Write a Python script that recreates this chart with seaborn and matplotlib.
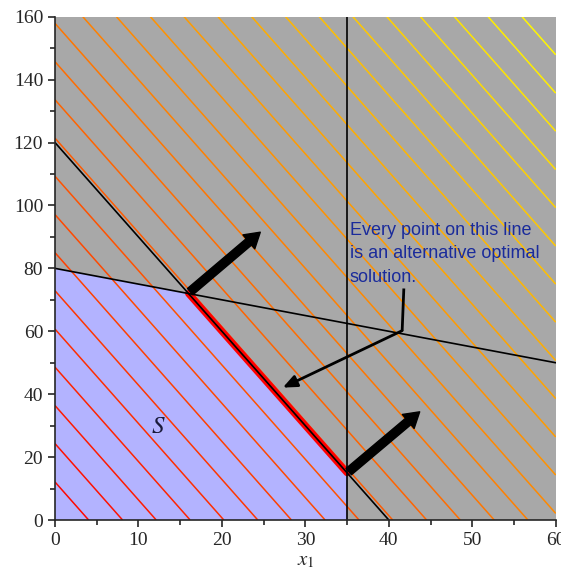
import numpy as np
import matplotlib
matplotlib.use("Agg")
import matplotlib.pyplot as plt
import seaborn as sns
import pandas as pd

# ---- data ----
obj_coef = [3, 1]                     # objective 3*x1 + x2
levels = [12.1, 24.3, 36.4, 48.6, 60.7, 72.9, 85.0, 97.1, 109.3, 121.4,
          133.6, 145.7, 157.9, 170.0, 182.1, 194.3, 206.4, 218.6, 230.7,
          242.9, 255.0, 267.1, 279.3, 291.4, 303.6, 315.7, 327.9]
region_x = [0, 0, 16, 35, 35]         # vertices of feasible set S
region_y = [0, 80, 72, 15, 0]
c1_x, c1_y = [0, 40], [120, 0]        # 3x1 + x2 <= 120
c2_x, c2_y = [0, 60], [80, 50]        # x1 + 2x2 <= 160
c3_x, c3_y = [35, 35], [0, 160]       # x1 <= 35
opt_x, opt_y = [16, 35], [72, 15]     # optimal edge
grad_starts = [(16.2, 72.6), (35.2, 15.4)]
grad_ends = [(24.6, 91.5), (43.7, 34.4)]
pointer_x = [41.8, 41.6, 27.3]
pointer_y = [73.6, 60.2, 42.1]
note = "Every point on this line\nis an alternative optimal\nsolution."
xticks_major = [0, 10, 20, 30, 40, 50, 60]
yticks_major = [0, 20, 40, 60, 80, 100, 120, 140, 160]

# ---- style ----
sns.set_style("ticks")
plt.rcParams['font.family'] = ['Liberation Serif', 'DejaVu Serif']
plt.rcParams['mathtext.fontset'] = 'stix'

fig = plt.figure(figsize=(5.61, 5.78), dpi=100)
ax = fig.add_axes([0.098, 0.1003, 0.8926, 0.8708])
ax.set_facecolor('#a8a8a8')

# feasible region
ax.fill(region_x, region_y, color='#b3b3ff', lw=0, zorder=1)

# contour lines of objective
gx = np.linspace(0, 60, 301)
gy = np.linspace(0, 160, 321)
X, Y = np.meshgrid(gx, gy)
Z = obj_coef[0] * X + obj_coef[1] * Y
n = len(levels)
cols = [(1.0, min(1.0, (i + 1) / (n + 1)), 0.0) for i in range(n)]
ax.contour(X, Y, Z, levels=levels, colors=cols, linewidths=1.1, zorder=2)

# optimal edge
df_opt = pd.DataFrame({'x': opt_x, 'y': opt_y})
sns.lineplot(data=df_opt, x='x', y='y', ax=ax, color='#ff0000', lw=5,
             sort=False, estimator=None, zorder=3)

# constraints
for cx, cy in [(c1_x, c1_y), (c2_x, c2_y), (c3_x, c3_y)]:
    d = pd.DataFrame({'x': cx, 'y': cy})
    sns.lineplot(data=d, x='x', y='y', ax=ax, color='black', lw=1.2,
                 sort=False, estimator=None, zorder=4)

# gradient arrows
for s, e in zip(grad_starts, grad_ends):
    ax.annotate('', xy=e, xytext=s,
                arrowprops=dict(arrowstyle='simple,head_length=0.9,head_width=1.1,tail_width=0.5',
                                fc='black', ec='black', mutation_scale=12,
                                shrinkA=0, shrinkB=0), zorder=6)

# pointer
ax.plot(pointer_x[:2], pointer_y[:2], color='black', lw=2.0, zorder=6,
        solid_capstyle='butt')
ax.annotate('', xy=(pointer_x[2], pointer_y[2]), xytext=(pointer_x[1], pointer_y[1]),
            arrowprops=dict(arrowstyle='-|>,head_length=0.7,head_width=0.3',
                            fc='black', ec='black', lw=2.0, mutation_scale=12,
                            shrinkA=0, shrinkB=0), zorder=6)

ax.text(35.3, 94.8, note, color='#1a2b9b', fontsize=13, va='top', ha='left',
        family=['Liberation Sans', 'DejaVu Sans'], linespacing=1.5, zorder=7)
ax.text(12.4, 29.5, r'$S$', fontsize=18, ha='center', va='center', zorder=7,
        color='#1a1a3a')

ax.set_xlim(0, 60)
ax.set_ylim(0, 160)
ax.set_xticks(xticks_major)
ax.set_yticks(yticks_major)
ax.set_xticks([5, 15, 25, 35, 45, 55], minor=True)
ax.set_yticks([10, 30, 50, 70, 90, 110, 130, 150], minor=True)
ax.tick_params(which='major', length=5, width=1.2, labelsize=14, direction='out')
ax.tick_params(which='minor', length=3.5, width=1.2, direction='out')
ax.set_xlabel(r'$x_1$', fontsize=15, labelpad=2)
ax.set_ylabel('')
for side in ['top', 'right']:
    ax.spines[side].set_visible(False)
for side in ['left', 'bottom']:
    ax.spines[side].set_linewidth(1.2)
    ax.spines[side].set_zorder(8)

fig.savefig('out.png', dpi=100)
